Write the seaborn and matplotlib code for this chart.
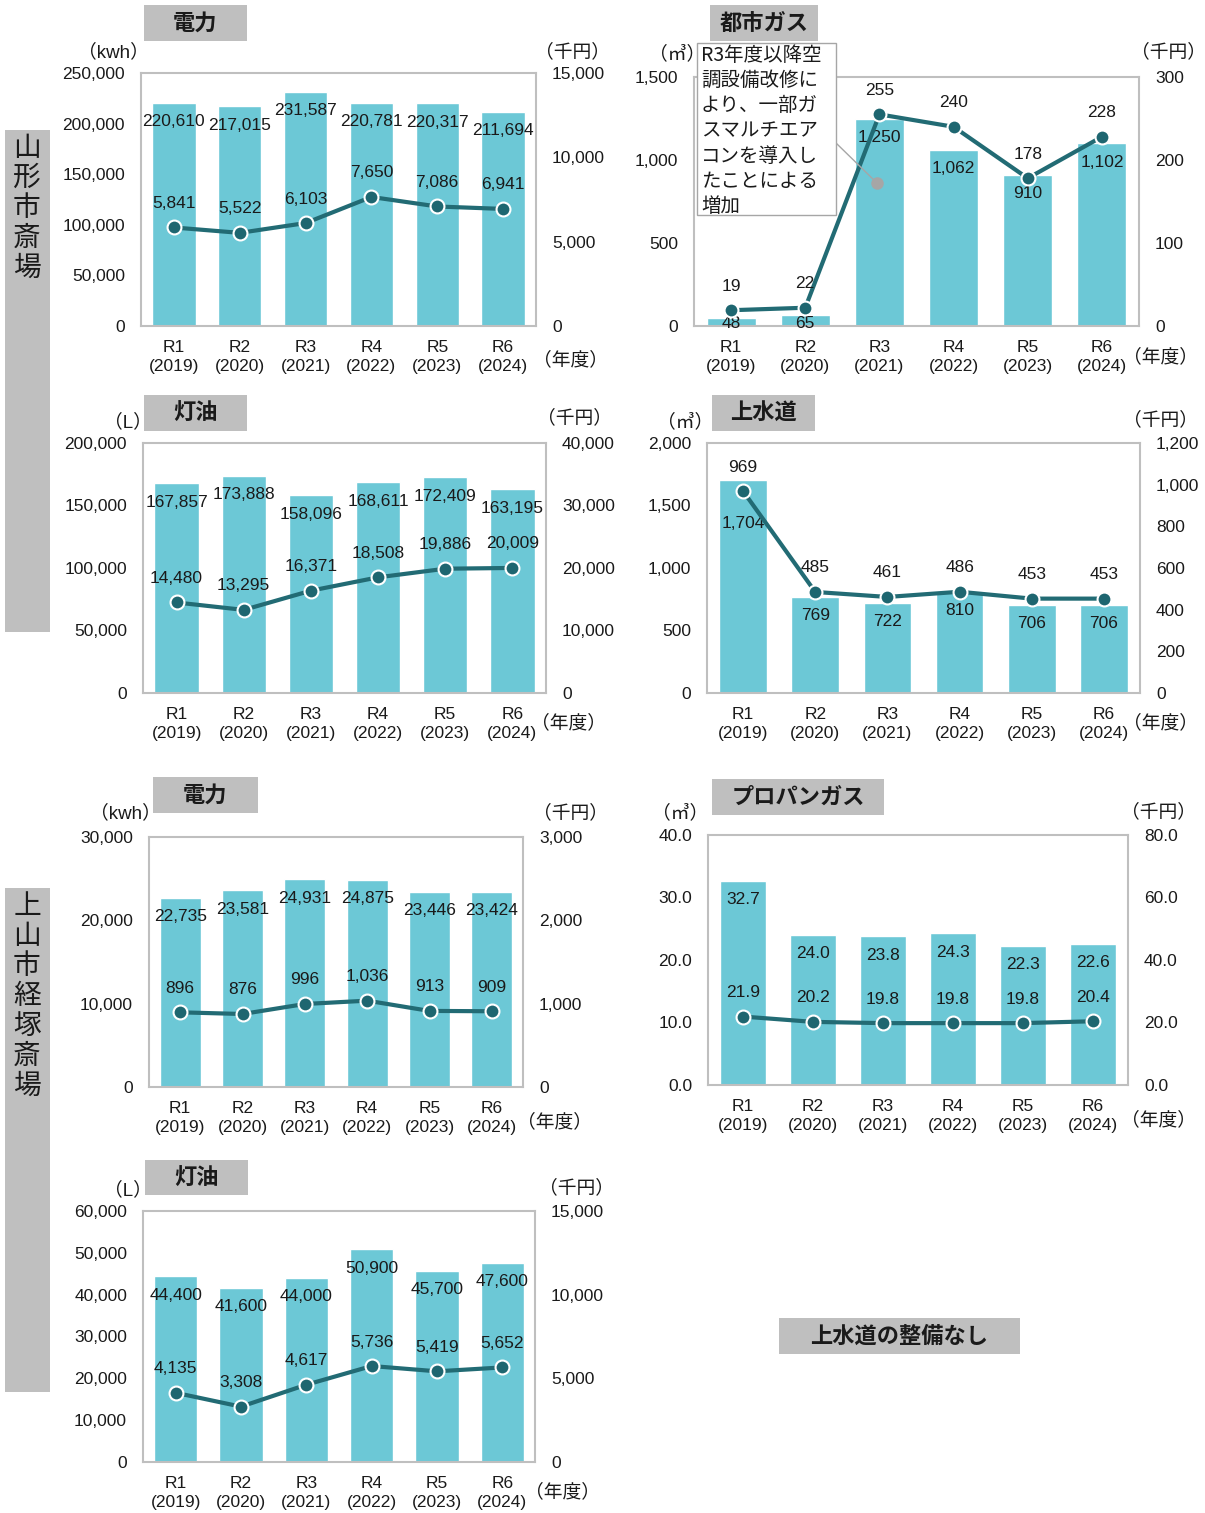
import numpy as np
import matplotlib
matplotlib.use("Agg")
import matplotlib.pyplot as plt
import seaborn as sns
from matplotlib.patches import Rectangle
from matplotlib.lines import Line2D

sns.set_style("white")
plt.rcParams['font.family'] = ['Liberation Sans', 'Noto Sans CJK JP', 'DejaVu Sans']

# ---- data ----
years = ['R1\n(2019)', 'R2\n(2020)', 'R3\n(2021)', 'R4\n(2022)', 'R5\n(2023)', 'R6\n(2024)']

# 山形市斎場
ym_elec_kwh = [220610, 217015, 231587, 220781, 220317, 211694]
ym_elec_cost = [5841, 5522, 6103, 7650, 7086, 6941]
ym_gas_m3 = [48, 65, 1250, 1062, 910, 1102]
ym_gas_cost = [19, 22, 255, 240, 178, 228]
ym_oil_l = [167857, 173888, 158096, 168611, 172409, 163195]
ym_oil_cost = [14480, 13295, 16371, 18508, 19886, 20009]
ym_water_m3 = [1704, 769, 722, 810, 706, 706]
ym_water_cost = [969, 485, 461, 486, 453, 453]

# 上山市経塚斎場
km_elec_kwh = [22735, 23581, 24931, 24875, 23446, 23424]
km_elec_cost = [896, 876, 996, 1036, 913, 909]
km_propane_m3 = [32.7, 24.0, 23.8, 24.3, 22.3, 22.6]
km_propane_cost = [21.9, 20.2, 19.8, 19.8, 19.8, 20.4]
km_oil_l = [44400, 41600, 44000, 50900, 45700, 47600]
km_oil_cost = [4135, 3308, 4617, 5736, 5419, 5652]

gas_note = "R3年度以降空\n調設備改修に\nより、一部ガ\nスマルチエア\nコンを導入し\nたことによる\n増加"

# ---- style ----
BAR = '#6CC8D6'
LINE = '#226B74'
MARK = '#1E6670'
FRAME = '#BFBFBF'
GREY = '#BFBFBF'
TXT = '#1A1A1A'
NUM = 12.5
UNIT = 13.5
JP = ['Noto Sans CJK JP', 'DejaVu Sans']

W, H = 1205, 1513
fig = plt.figure(figsize=(W / 100, H / 100), dpi=100)


def fx(x):
    return x / W


def fy(y):
    return 1 - y / H


def gbox(x0, y0, x1, y1, fc=GREY, ec='none', lw=0):
    fig.add_artist(Rectangle((fx(x0), fy(y1)), (x1 - x0) / W, (y1 - y0) / H,
                             transform=fig.transFigure, fc=fc, ec=ec, lw=lw, zorder=5))


def ftext(x, y, s, size=NUM, ha='center', va='center', **kw):
    fig.text(fx(x), fy(y), s, fontsize=size, ha=ha, va=va, color=TXT, zorder=6, **kw)


def comma(v):
    return f"{v:,.0f}"


def one_dec(v):
    return f"{v:.1f}"


def panel(l, t, r, b, bars, line, lmax, lstep, rmax, rstep, fmt=comma, bar_shift=None):
    ax = fig.add_axes([fx(l), fy(b), (r - l) / W, (b - t) / H])
    sns.barplot(x=years, y=bars, ax=ax, color=BAR, width=0.66, saturation=1)
    ax2 = ax.twinx()
    sns.lineplot(x=np.arange(len(line)), y=line, ax=ax2, color=LINE, lw=3,
                 marker='o', markersize=10, markerfacecolor=MARK,
                 markeredgecolor='white', markeredgewidth=1.5)
    ax.set_xlim(-0.5, len(bars) - 0.5)
    ax.set_ylim(0, lmax)
    ax2.set_ylim(0, rmax)
    ax.set_yticks(np.arange(0, lmax + lstep / 2, lstep))
    ax2.set_yticks(np.arange(0, rmax + rstep / 2, rstep))
    ax.set_yticklabels([fmt(v) for v in ax.get_yticks()])
    ax2.set_yticklabels([fmt(v) for v in ax2.get_yticks()])
    for a in (ax, ax2):
        a.set_xlabel('')
        a.set_ylabel('')
        a.tick_params(length=0, labelsize=NUM, colors=TXT)
        a.tick_params(axis='y', pad=11.5)
    ax.tick_params(axis='x', pad=10)
    for lab in ax.get_xticklabels():
        lab.set_linespacing(1.35)
    for s in ax.spines.values():
        s.set_color(FRAME)
        s.set_linewidth(1.5)
    for s in ax2.spines.values():
        s.set_visible(False)
    ax.grid(False)
    ax2.grid(False)

    hpx = b - t
    for i, v in enumerate(bars):
        shift = -19
        if bar_shift and i in bar_shift:
            shift = bar_shift[i]
        if v / lmax * hpx < 24:
            ax.annotate(fmt(v), xy=(i, 0), xytext=(0, 3), textcoords='offset pixels',
                        ha='center', va='center', fontsize=NUM, color=TXT)
        else:
            ax.annotate(fmt(v), xy=(i, v), xytext=(0, shift), textcoords='offset pixels',
                        ha='center', va='center', fontsize=NUM, color=TXT)
    for i, v in enumerate(line):
        ax2.annotate(fmt(v), xy=(i, v), xytext=(0, 24), textcoords='offset pixels',
                     ha='center', va='center', fontsize=NUM, color=TXT)
    return ax, ax2


# ---- side labels ----
gbox(5, 130, 50, 632)
ftext(27, 133, '\n'.join('山形市斎場'), size=20, va='top', family=JP, linespacing=1.0)
gbox(5, 888, 50, 1392)
ftext(27, 891, '\n'.join('上山市経塚斎場'), size=20, va='top', family=JP, linespacing=1.0)

# ---- 山形市斎場: 電力 ----
panel(141, 73, 536, 326, ym_elec_kwh, ym_elec_cost, 250000, 50000, 15000, 5000)
gbox(144, 5, 247, 41)
ftext(195.5, 23, '電力', size=16, family=JP, weight='bold')
ftext(113, 52, '（kwh）', size=UNIT)
ftext(572, 52, '（千円）', size=UNIT)
ftext(570, 360, '（年度）', size=UNIT)

# ---- 山形市斎場: 都市ガス ----
panel(694, 77, 1139, 326, ym_gas_m3, ym_gas_cost, 1500, 500, 300, 100)
gbox(710, 5, 818, 41)
ftext(764, 23, '都市ガス', size=16, family=JP, weight='bold')
ftext(677, 54, '（㎥）', size=UNIT)
ftext(1168, 52, '（千円）', size=UNIT)
ftext(1160, 357, '（年度）', size=UNIT)
gbox(697, 43, 836, 215, fc='white', ec='#A6A6A6', lw=1.0)
ftext(701, 45, gas_note, size=14, ha='left', va='top', family=JP, linespacing=1.26)
fig.add_artist(Line2D([fx(836), fx(877)], [fy(143), fy(183)], transform=fig.transFigure,
                      color='#A6A6A6', lw=1.0, zorder=4))
fig.add_artist(Line2D([fx(877)], [fy(183)], transform=fig.transFigure, marker='o',
                      markersize=8, color='#A6A6A6', lw=0, zorder=4))

# ---- 山形市斎場: 灯油 ----
panel(143, 443, 546, 693, ym_oil_l, ym_oil_cost, 200000, 50000, 40000, 10000)
gbox(144, 395, 247, 431)
ftext(195.5, 413, '灯油', size=16, family=JP, weight='bold')
ftext(128, 422, '（L）', size=UNIT)
ftext(575, 418, '（千円）', size=UNIT)
ftext(568, 723, '（年度）', size=UNIT)

# ---- 山形市斎場: 上水道 ----
panel(707, 443, 1140, 693, ym_water_m3, ym_water_cost, 2000, 500, 1200, 200,
      bar_shift={0: -44})
gbox(712, 395, 815, 431)
ftext(763.5, 413, '上水道', size=16, family=JP, weight='bold')
ftext(685, 422, '（㎥）', size=UNIT)
ftext(1160, 420, '（千円）', size=UNIT)
ftext(1160, 723, '（年度）', size=UNIT)

# ---- 上山市経塚斎場: 電力 ----
panel(149, 837, 523, 1087, km_elec_kwh, km_elec_cost, 30000, 10000, 3000, 1000)
gbox(153, 777, 258, 813)
ftext(205.5, 795, '電力', size=16, family=JP, weight='bold')
ftext(125, 813, '（kwh）', size=UNIT)
ftext(570, 813, '（千円）', size=UNIT)
ftext(555, 1122, '（年度）', size=UNIT)

# ---- 上山市経塚斎場: プロパンガス ----
panel(708, 835, 1128, 1085, km_propane_m3, km_propane_cost, 40, 10, 80, 20, fmt=one_dec)
gbox(712, 779, 884, 815)
ftext(798, 797, 'プロパンガス', size=16, family=JP, weight='bold')
ftext(680, 813, '（㎥）', size=UNIT)
ftext(1158, 812, '（千円）', size=UNIT)
ftext(1158, 1120, '（年度）', size=UNIT)

# ---- 上山市経塚斎場: 灯油 ----
panel(143, 1211, 535, 1462, km_oil_l, km_oil_cost, 60000, 10000, 15000, 5000)
gbox(145, 1160, 248, 1195)
ftext(196.5, 1178, '灯油', size=16, family=JP, weight='bold')
ftext(128, 1190, '（L）', size=UNIT)
ftext(577, 1188, '（千円）', size=UNIT)
ftext(563, 1492, '（年度）', size=UNIT)

# ---- 上水道なし ----
gbox(779, 1318, 1020, 1354)
ftext(899.5, 1336, '上水道の整備なし', size=16, family=JP, weight='bold')

fig.savefig('out.png', dpi=100)
